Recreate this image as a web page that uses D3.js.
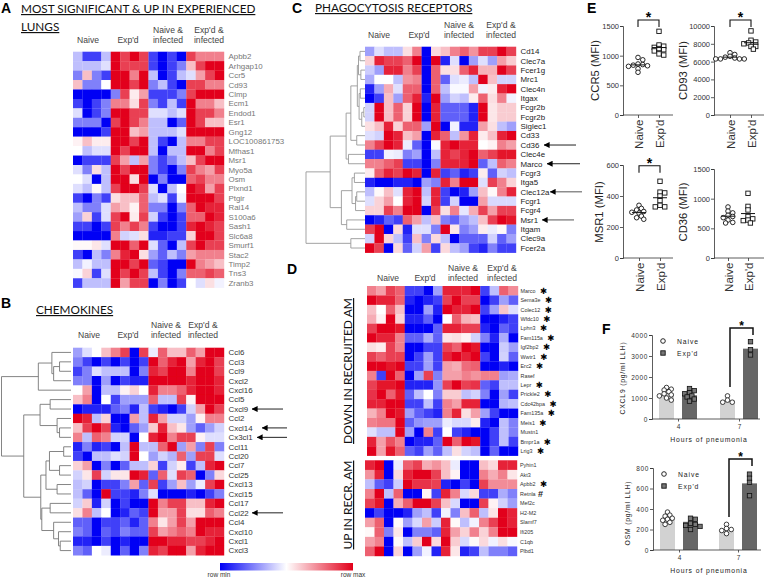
<!DOCTYPE html>
<html lang="en">
<head>
<meta charset="UTF-8" />
<title>Experienced lungs</title>
<script src="https://cdn.jsdelivr.net/npm/d3@7"></script>
<style>
  html, body { margin: 0; padding: 0; background: #fff; }
  svg { display: block; }
  text { font-family: "Liberation Sans", Arial, sans-serif; }
  .title { font-family: Lato, "Open Sans", sans-serif; text-decoration: underline; fill: #111; }
  .letter { font-weight: bold; font-size: 14px; fill: #000; }
  .group { font-size: 8.6px; fill: #444; text-anchor: middle; }
  .axis path, .axis line { stroke: #333; stroke-width: 0.8; }
  .axis text { fill: #333; font-family: "Liberation Sans", Arial, sans-serif; }
</style>
</head>
<body>
<svg id="fig" width="768" height="579"></svg>
<script>
// heatmap rows, -4 = row min, 4 = row max
var genesA = ["Apbb2","Arhgap10","Ccr5","Cd93","Clmp","Ecm1","Endod1","Esr1","Gng12","LOC100861753","Mfhas1","Msr1","Myo5a","Osm","Plxnd1","Ptgir","Rai14","S100a6","Sash1","Slc6a8","Smurf1","Stac2","Timp2","Tns3","Zranb3"];
var valuesA = [
[-1,-3,-3,-1,4,3,4,3,-3,-4,-3,-4,3,2,2,2],
[-1,-1,-1,-.5,4,3,3,3,-3,-4,-3,-2,1,3,4,4],
[-2,1,-2,-3,4,4,2,4,-1,-4,-3,-1,-.5,1.5,3,4],
[1,-2,-2,0,4,4,3,4,-2,-1,-3,-4,3,3,2,2],
[-4,-4,-4,-4,-2,3,.3,1.5,-3,-3,-3,-2,3,4,4,4],
[-3,-4,-3,-2,2,2,.5,3,-2,-3,-1,-3,4,2,2,1],
[-.5,-4,-3,-2,4,4,3,3,-.5,-.5,-1,-.5,4,3,3,2],
[-2,-2,-2,-4,3,4,3,2,-1,-1,-4,-2.5,4,3,1,1],
[-4,-4,-4,-3,4,4,1,1.5,-1,-1,-1,-.5,4,4,4,4],
[.2,1,.3,.3,4,4,3,4,-1,-3,-4,-1,2,2,3,3],
[0,-1,-.5,-.5,4,3,4,4,-1,-4,-1,-1,4,4,2,3],
[-4,-3,-3,-3,3,1.5,-1,1.5,-2,-3,-2,-1,1,3,4,4],
[-.5,-2,.5,-1,4,3,4,4,-2,-3,-4,-2,3,2,1.5,3],
[0,-.5,-4,-1,4,4,.5,4,-4,-2,-4,-4,2.5,3,2,2],
[-.5,-1,.1,-1,3,4,4,3,-.5,-4,-1,0,4,3.5,1.5,3],
[-3,-4,-2,-3,.5,1,1,2.5,-1,-.5,-3,-.2,4,4,4,3],
[-1,-2,-2,-.5,1.5,1,.2,2.5,-2,-2,-4,-2,2.5,4,3.5,3.5],
[-1.5,.7,-3,-.5,3,4,.3,3,-.7,-3,-4,-3,2.5,2.5,4,3.5],
[-3,-3,-4,-3,3,2,3,2,-3,-4,-4,-3,3.5,4,3.5,3],
[-4,-4,-4,-4,2,-.7,-.5,.5,-3.5,-3.5,-3,-3,.7,4,4,3],
[.1,.1,.4,-.5,4,4,2.5,4,-.5,-2.5,-4,-1,3,4,3,3],
[-3,-4,-1,-2,2,3.5,4,.5,-1.5,-2.5,-1,-2,1.5,2,2,2],
[-1,-.2,-1,-1,4,4,3,4,-2.5,-3,-4,-4,4,2,1.5,1],
[-.1,.7,-3,-.5,4,3,4,3,-1,-3,-4,-2,2.5,2.5,3,2.5],
[-3,-1,-1,-1,4,1.5,3,3,-4,-2,-4,-3,0,-.5,.5,-.2]];

var genesB = ["Ccl6","Ccl3","Ccl9","Cxcl2","Cxcl16","Ccl5","Cxcl9","Ccl2","Cxcl14","Cx3cl1","Ccl11","Ccl20","Ccl7","Ccl25","Cxcl13","Cxcl15","Ccl17","Ccl22","Ccl4","Cxcl10","Cxcl1","Cxcl3"];
var valuesB = [
[-1.5,-.5,0,1,2,3,-4,3,-.3,2.5,1,1,2.5,1.5,4,4],
[-2,-3,-4,-3,-4,-3,-4,-3,4,2.5,3.5,4,1.5,3.5,4,3],
[-3,-2,-.5,-1,-1,-1,-4,-2,3.5,3,4,4,2,4,4,3],
[-2,-2,-4,-1.5,-4,-3,-3.5,-3.5,4,4,4,4,3.5,4,4,3.5],
[0,1.5,-4,-1,-1,.2,.7,0,3.5,2,2,2.5,3.5,4,4,3.5],
[1,2,-4,0,-3,-1.5,-1.5,-1.5,2.5,-1,-1,3,.2,4,4,4],
[-4,-3.5,-3.5,-3.5,-2.5,-2,-3.5,-1,-3,-3.5,-4,-3,-.7,1.5,4,3],
[4,3.5,-1,.7,-4,-4,1.5,-1,3.5,1.5,-.7,-.7,-1.5,.2,2,2],
[1,3,4,3,-3.5,-4,-2.5,-1.5,.8,3.5,1,.4,-1.5,-2.5,-1.5,-.7],
[2,-1,2.5,2,-.7,-.7,-4,0,3.5,4,2,3,3,.2,-.5,-.5],
[-3.5,-2,-3.5,-3,-4,-1,4,-1,-1,2.5,4,-1.5,1.5,-2,3,-2],
[-3,-4,-1,-1,-.5,-.7,4,0,-1.5,-.7,-1.2,2.5,-1.5,3,3,-.5],
[.7,1.5,-4,-2,-4,-2.5,-1,-1,.7,-3,-.7,.3,-3,-1,3.5,4],
[-.7,.4,3,-.7,.4,.4,4,3.5,-2.5,2.5,-.5,3,2.5,-4,-2,.6],
[-1,-.7,-4,-3,-3,-2,1.5,-2.5,3,-3,-1.5,1,-1.5,-.3,3,4],
[-1,-2.5,-4,4,-3,-3,-3.5,-2,-.5,-4,-4,-4,-3.5,-4,-3,-2],
[-.7,.8,-3.5,-.7,-4,-3,-4,-4,4,2,3,3,1,1,3.5,4],
[.5,2,-1,0,-4,-3.5,-2.5,-3,4,1.5,1.5,3,.5,.5,2.5,2],
[-2.5,-2.5,-4,-3,-3,-2.5,-3.5,-2.5,2,.4,1.5,3,1.5,4,4,4],
[-2,-2.5,-4,-2.5,-3,-2,-2.5,-2.5,3,1.5,2,2.5,2,4,3.5,3.5],
[-3.5,-3.5,-4,-3,-4,-3.5,-4,-4,4,4,3.5,3.5,3,3,3.5,4],
[-2,-2.5,0,-.3,-4,-2.5,-4,-2,3.5,3,4,4,1.5,3.5,4,4]];
var treeB = [1,[.47,[.275,0,[.25,[.165,1,2],3]],4],[.68,[.445,[.3,5,6],[.2,7,[.165,8,9]]],[.435,[.36,[.31,[.105,10,11],[.165,12,13]],[.2,14,15]],[.42,[.3,16,17],[.25,18,[.18,19,[.155,20,21]]]]]]];

var genesC = ["Cd14","Clec7a","Fcer1g","Mrc1","Clec4n","Itgax","Fcgr2b","Fcgr2b","Siglec1","Cd33","Cd36","Clec4e","Marco","Fcgr3","Itga5","Clec12a","Fcgr1","Fcgr4","Msr1","Itgam","Clec9a","Fcer2a"];
var valuesC = [
[-1.5,-.5,-1,-1,.5,2,-4,.6,1,2,2.5,1.7,3,3,4,3],
[.7,3.5,3,3,2.5,4,-4,4,-3.5,-.5,-4,-1.5,-.5,-1.5,1.5,.8],
[-.8,-1.5,3.5,3.5,2,3,-4,2.5,.5,.5,2.5,3.5,1.2,1.2,4,3],
[-1.3,0,0,-1,1.7,2,-4,2.5,-2.5,-.5,-.3,-1,4,1,-.7,-.7],
[-3.5,-1.5,1.3,-.5,2.5,2.5,-4,2.5,-1,-.1,-.1,1.5,-.2,.3,3.5,4],
[-4,-3,1,-1.5,2.5,3.5,-3.5,4,-1.5,-.7,-1,.3,2.5,.5,2,-.2],
[-.7,4,1,2.5,.7,4,-4,3.5,-2.5,-2.5,-2.5,-3.5,4,.4,.8,.8],
[-.7,4,1,2.5,.7,4,-4,3.5,-2.5,-2.5,-2.5,-3.5,4,.4,.8,.8],
[.5,1,3.5,.7,2.5,2.5,-1.5,4,-4,-.2,-3.5,-3.5,1.5,.5,-1,-1.5],
[-.5,-.7,4,3.5,1,1.5,-4,3.5,2.5,-1,1.7,3.5,.3,1,3.5,4],
[2,3,4,3.5,-.3,-2.5,-4,-.1,3.5,4,3.5,3.5,0,.2,2,1.5],
[-3,-3,-.2,-.3,-2,-1.5,-4,-1,3.5,3,3.5,4,2.5,3,3.7,3.7],
[2,2,2.5,3,-3,-3,-4,-2,3.5,3.5,3.5,4,-2.5,-1,2.5,2],
[.3,2.5,3.5,3,4,3.5,-4,3.5,-3,-2.5,-3.5,-3,.3,-2.5,-.7,-1],
[-3.5,-4,-4,-3.5,-3.5,-4,-1.5,-2,3.5,2,4,4,-.5,3,2,.7],
[-1,.1,1,-.5,3.5,4,-1,3.5,-3,-4,-3.5,-1.5,1,.1,2,3.5],
[-.5,.7,1.5,0,3.5,4,-.7,3.5,-3,-.7,-4,-4,1.5,-.6,-.6,-.6],
[.7,.7,3,2,4,4,-4,3,.5,2,-.4,1.3,3,1.5,3,3],
[-4,-3.5,-2.5,-3,2.5,1.5,-1,1,-2,-2.5,-1.5,-1,1,3,4,3.7],
[3,4,-4,.6,-3.5,-.5,-.5,-2,4,.4,-2,-1.5,.3,-.3,.1,-2],
[-.7,4,.7,-1,-3,1,-2,.6,-1,-4,-2.5,-2.5,-2.5,-.7,-2.5,-1.5],
[4,3,-4,.6,-2.5,-.7,1.5,-3,.6,-1,-1.5,-3,-3.5,-2,-3,-3]];
var treeC = [1,[.59,[.32,[.24,[.13,[.11,[.085,0,1],[.07,2,3]],[.1,[.08,4,5],[.055,[.02,6,7],8]]],[.14,9,10]],[.28,11,12]],[.4,[.22,[.18,13,14],[.16,[.14,15,16],17]],[.31,18,19]]],[.24,20,21]];

var genesD1 = ["Marco","Sema3e","Colec12","Wfdc10","Lphn3","Fam115a","Igf2bp2","Wwtr1","Erc2","Rasef","Lepr","Prickle2","Cdc42bpa","Fam135a","Meis1","Mustn1","Bmpr1a","Lrig3"];
var valuesD1 = [
[2,1.5,3,2.5,-3,-3,-4,-1.5,3.5,3.5,3.5,4,-3,-1,2.5,1.8],
[4,3.5,3.5,2.5,-3.5,-4,-3.5,-3,3,4,3,3,-4,-3,-1.5,-2.5],
[1,0,2.5,1,-4,-4,-1.5,-3.5,4,3.5,3.5,4,-3,-1.5,.9,-.5],
[1.3,.2,4,.7,-3.5,-3.5,-2.5,-4,0,2.5,1.2,1,-4,-4,-3.5,-3],
[3,4,4,3.7,-4,-4,-4,-2.5,3.5,3.5,3,3,-3.5,-4,-2.5,-3],
[4,3.5,3.5,2,-2.5,-2.5,-1.3,-2.5,.4,.5,.2,-.7,-2,-3.5,-1.3,-4],
[.5,.3,3,2,-4,-4,-3,-3,3,2.5,4,3.7,-4,-4,-.8,-1.5],
[3,2.5,3,3,-4,-3,-1.5,-3,3.5,4,3.5,4,-3,-4,-.7,-2.5],
[4,4,3.7,4,-3,-3,-1.5,-3,1.5,1.3,2.3,2.5,-4,-4,-3.5,-4],
[2,-3,4,2.5,-4,-1.5,3,-2,1.5,1.5,2,1.7,2,2,-1.5,-1.3],
[3,3.7,3.7,4,-3.5,-3.5,-3.5,-1.7,3,4,3,3.2,-2.5,-3,-1,-1],
[3.2,4,2.5,3.7,-2.5,-1,0,-2,.8,.8,-1,-.7,-2,-4,-1.5,-3],
[3.5,3.5,4,4,-3,-3,-1,-3,2,1.5,3.5,3.5,-4,-4,-1.2,-1],
[1.2,2,4,3.7,-1.5,-2.5,-3,-3.5,2,3.5,.5,1.5,-1.5,-3,-4,-4],
[2,2.2,2.2,4,-2.5,-1.7,-1.5,-1.5,-.3,-.6,-.6,.3,-3.5,-4,-1,-2],
[-.5,-1,-1,4,-1.5,-4,2,-3,0,-3,-3.5,-4,-4,-3,-1,-2],
[3.5,1.5,2.7,2,-4,-3.5,-3.5,-2.5,4,2.5,4,3.7,-4,-3,-1,-3],
[4,1.5,3.7,2.5,-2.5,-3,-1.5,-2.5,-1,.5,-.7,-1,-4,-2.5,-4,-4]];
var starsD1 = ["Marco","Sema3e","Colec12","Wfdc10","Lphn3","Fam115a","Igf2bp2","Wwtr1","Erc2","Lepr","Prickle2","Cdc42bpa","Fam135a","Meis1","Bmpr1a","Lrig3"];

var genesD2 = ["Pyhin1","Akt3","Apbb2","Retnla","Mef2c","H2-M2","Slamf7","Ifi205","C1qb","Plbd1"];
var valuesD2 = [
[3.5,4,-4,-.3,2.5,3,1.3,1.7,1,-.3,-4,-4,1,.6,3.5,3.5],
[1.7,3.5,-4,.6,3.5,4,4,3,1,.2,-4,-4,2,1.3,2,.4],
[-1,-2.5,-3,-.8,4,3.2,3.2,3,-3.5,-4,-3,-4,3,1.8,1.8,1.8],
[2,4,-1,2.5,-4,-4,.2,-3,3.5,2,-.6,.6,-3,-3,-1.3,-2],
[3,3.7,-4,1.3,2.5,4,4,3,1,-.6,-4,-4,3,.2,-.7,-1.5],
[-4,-3,-4,-4,-3.5,-1.5,-1,-3,-.2,-2,1,2.5,-1,.4,4,3.5],
[1.5,2.5,-4,.1,-1.5,-.6,1.5,-.8,3.5,.1,-1,-.2,2,3,4,3.5],
[.1,2.5,-2,.4,-4,-2,-2,-2.5,3.5,1.5,.7,2,.7,2,4,4],
[1.5,2,-4,.1,-1,.8,4,.6,4,.8,-.6,.1,.6,-.2,.5,-.1],
[2.5,4,-4,.7,-4,-1.5,-.2,-3.5,3.5,.4,-3.5,-3,-1,-2,-2,-2.5]];

// panel E, MFI per animal
var groupsE = ["Naive", "Exp'd"];
var ccr5Naive = [970,930,860,850,840,830,820,780,720], ccr5Exp = [1410,1180,1160,1140,1120,1100,1080,1030,1010];
var cd93Naive = [7000,6800,6600,6500,6400,6300,6300,6300,6300], cd93Exp = [9450,8400,8200,8100,8000,7700,7700,7400];
var msr1Naive = [340,320,310,300,295,290,270,260,250], msr1Exp = [495,425,420,400,370,340,330,330];
var cd36Naive = [860,790,760,720,700,680,640,600,590], cd36Exp = [1090,870,810,700,660,640,630,590];

// panel F
var hours = ["4", "7"];
var cxcl9Bars = [[1230,1130],[900,3350]];
var cxcl9Points = [[[1500,1420,1380,1300,1200,1150,1100,1000,900],[1450,1350,1250,1200,1100,1050,950,850]],[[1100,900,800,800],[3680,3300,3050]]];
var osmBars = [[300,275],[200,650]];
var osmPoints = [[[370,340,330,310,300,290,270,250],[310,300,260,250,240,230,200]],[[250,210,200,190,160],[740,700,660,530]]];

var svg = d3.select("#fig");
var color = d3.scaleLinear().domain([-4,0,4]).range(["#0000f5","#ffffff","#e2001a"]);

function label(x, y, t, cls, size) {
  var e = svg.append("text").attr("x", x).attr("y", y).text(t);
  if (cls) e.attr("class", cls);
  if (size) e.attr("font-size", size);
  return e;
}

var defs = svg.append("defs");
defs.append("filter").attr("id", "soft").append("feGaussianBlur").attr("stdDeviation", 0.35);

function heatmap(o) {
  var g = svg.append("g");
  var cells = g.append("g").attr("filter", "url(#soft)");
  var xs = d3.scaleBand().domain(d3.range(16)).range([o.x0, o.x1]);
  var ys = d3.scaleBand().domain(d3.range(o.genes.length)).range([o.y0, o.y1]);
  o.values.forEach(function (row, i) {
    cells.selectAll(null).data(row).enter().append("rect")
      .attr("x", function (d, j) { return xs(j); })
      .attr("y", ys(i))
      .attr("width", xs.bandwidth() + 0.2)
      .attr("height", ys.bandwidth() + 0.2)
      .attr("fill", function (d) { return color(d); });
  });
  g.selectAll(".gene").data(o.genes).enter().append("text")
    .attr("x", o.x1 + (o.dx || 4.5))
    .attr("y", function (d, i) { return ys(i) + ys.bandwidth() / 2 + o.fs * 0.36; })
    .attr("font-size", o.fs)
    .attr("fill", o.fill)
    .text(function (d) { return d; })
    .each(function (d, i) {
      if (o.stars && o.stars.indexOf(d) >= 0) {
        var end = o.x1 + (o.dx || 4.5) + this.getComputedTextLength();
        label(end + 8, ys(i) + ys.bandwidth() / 2 + 3, "\u2731", null, 8.5)
          .attr("text-anchor", "middle").style("font-family", "'DejaVu Sans'");
      }
    });
  return ys;
}

function groupLabels(cx, y) {
  label(cx[0], y, "Naive", "group");
  label(cx[1], y, "Exp'd", "group");
  label(cx[2], y - 10.5, "Naive &", "group");
  label(cx[2], y, "infected", "group");
  label(cx[3], y - 10.5, "Exp'd &", "group");
  label(cx[3], y, "infected", "group");
}

function dendrogram(tree, ys, x0, x1, col) {
  var xs = d3.scaleLinear().domain([0,1]).range([x1, x0]);
  var p = d3.path();
  function walk(n) {
    if (typeof n === "number") return { x: x1, y: ys(n) + ys.bandwidth() / 2 };
    var a = walk(n[1]), b = walk(n[2]), x = xs(n[0]);
    p.moveTo(a.x, a.y); p.lineTo(x, a.y); p.lineTo(x, b.y); p.lineTo(b.x, b.y);
    return { x: x, y: (a.y + b.y) / 2 };
  }
  walk(tree);
  svg.append("path").attr("d", p.toString()).attr("fill", "none").attr("stroke", col).attr("stroke-width", 0.9);
}

defs.append("marker").attr("id", "head").attr("viewBox", "0 0 8 8").attr("refX", 7.5).attr("refY", 4)
  .attr("markerWidth", 6).attr("markerHeight", 6).attr("markerUnits", "userSpaceOnUse").attr("orient", "auto")
  .append("path").attr("d", "M0,0L8,4L0,8Z").attr("fill", "#000");

function arrow(x1, x2, y, col) {
  svg.append("line").attr("x1", x1).attr("x2", x2).attr("y1", y).attr("y2", y)
    .attr("stroke", col || "#222").attr("stroke-width", 1).attr("marker-end", "url(#head)");
}

// A
label(1, 13, "A", "letter");
label(21, 13, "MOST SIGNIFICANT & UP IN EXPERIENCED", "title", 11.75);
label(21, 31, "LUNGS", "title", 11.75);
groupLabels([88, 128, 168, 209], 43);
heatmap({ genes: genesA, values: valuesA, x0: 73, x1: 224, y0: 51.7, y1: 287.7, fs: 7.9, fill: "#777" });

// B
label(1, 307.5, "B", "letter");
label(36, 314, "CHEMOKINES", "title", 11.75);
groupLabels([89, 128, 166, 203], 338);
var ysB = heatmap({ genes: genesB, values: valuesB, x0: 73, x1: 224, y0: 347.7, y1: 555.3, fs: 7.9, fill: "#333" });
dendrogram(treeB, ysB, 1.5, 71, "#777");
[["Cxcl9",283,252],["Cxcl14",287,262],["Cx3cl1",287,257],["Ccl22",283,252]].forEach(function (a) {
  arrow(a[1], a[2], ysB(genesB.indexOf(a[0])) + ysB.bandwidth() / 2);
});

// colour bar
var grad = defs.append("linearGradient").attr("id", "bar");
[0, 0.5, 1].forEach(function (t) {
  grad.append("stop").attr("offset", t).attr("stop-color", color(-4 + 8 * t));
});
svg.append("rect").attr("x", 220).attr("y", 563).attr("width", 133).attr("height", 7.5).attr("fill", "url(#bar)");
label(219, 577, "row min", null, 6.5).attr("text-anchor", "middle").attr("fill", "#333");
label(353, 577, "row max", null, 6.5).attr("text-anchor", "middle").attr("fill", "#333");

// C
label(292, 13, "C", "letter");
label(315, 12, "PHAGOCYTOSIS RECEPTORS", "title", 11.75);
groupLabels([379, 419, 459, 501], 38);
var ysC = heatmap({ genes: genesC, values: valuesC, x0: 365, x1: 516, y0: 46.7, y1: 252.7, fs: 7.9, fill: "#222" });
dendrogram(treeC, ysC, 306, 365, "#999");
[["Cd36",576,544],["Marco",580,547],["Clec12a",582,550],["Msr1",574,542]].forEach(function (a) {
  arrow(a[1], a[2], ysC(genesC.indexOf(a[0])) + ysC.bandwidth() / 2, a[0] == "Msr1" || a[0] == "Clec12a" ? "#555" : "#222");
});

// D
label(287, 274, "D", "letter");
groupLabels([388, 425, 463, 502], 281);
heatmap({ genes: genesD1, values: valuesD1, x0: 367, x1: 518, y0: 286, y1: 455.7, fs: 5.4, fill: "#333", dx: 2.5, stars: starsD1 });
var ysD2 = heatmap({ genes: genesD2, values: valuesD2, x0: 365, x1: 517, y0: 460.3, y1: 556, fs: 5.4, fill: "#333", dx: 3, stars: ["Apbb2"] });
label(538, ysD2(3) + ysD2.bandwidth() / 2 + 3.5, "#", null, 9).attr("font-weight", "bold").attr("fill", "#222");
label(0, 0, "DOWN IN RECRUITED AM", "title", 12).attr("text-anchor", "middle").attr("transform", "translate(352,371) rotate(-90)");
label(0, 0, "UP IN RECR. AM", "title", 12).attr("text-anchor", "middle").attr("transform", "translate(352,505) rotate(-90)");

// lay points out next to each other, they may touch a little
function swarm(vals, y, gap) {
  var placed = [];
  vals.forEach(function (v) {
    var py = y(v), k = 0, off = 0;
    while (placed.some(function (q) { return Math.hypot(q.off - off, q.py - py) < gap; })) {
      k++;
      off = (k % 2 ? 1 : -1) * Math.ceil(k / 2) * gap * 0.7;
    }
    placed.push({ off: off, py: py, v: v });
  });
  return placed;
}

function marks(g, placed, cx, square, fill, sw) {
  placed.forEach(function (p) {
    if (square) {
      g.append("rect").attr("x", cx + p.off - 2.2).attr("y", p.py - 2.2).attr("width", 4.4).attr("height", 4.4)
        .attr("fill", fill).attr("stroke", "#111").attr("stroke-width", sw);
    } else {
      g.append("circle").attr("cx", cx + p.off).attr("cy", p.py).attr("r", 2.3)
        .attr("fill", "#fff").attr("stroke", "#111").attr("stroke-width", sw);
    }
  });
}

function scatter(o) {
  var g = svg.append("g");
  var y = d3.scaleLinear().domain([0, o.max]).range([o.y0, o.y1]);
  var x = d3.scalePoint().domain(groupsE).range(o.xt);
  g.append("g").attr("class", "axis").attr("transform", "translate(" + o.x0 + ",0)")
    .call(d3.axisLeft(y).tickValues(o.ticks).tickFormat(d3.format("d")).tickSize(3).tickPadding(1))
    .selectAll("text").attr("font-size", 7.5);
  var ax = g.append("g").attr("class", "axis").attr("transform", "translate(0," + o.y0 + ")")
    .call(d3.axisBottom(x).tickSize(3));
  ax.select(".domain").attr("d", "M" + o.x0 + ",0H" + (o.x0 + 50));
  ax.selectAll("text").attr("font-size", 11.5).attr("text-anchor", "end").attr("x", 0).attr("y", 0).attr("dy", 0)
    .attr("transform", "translate(4,4.5) rotate(-90)");
  label(0, 0, o.title, null, 11.3).attr("text-anchor", "middle").attr("fill", "#222")
    .attr("transform", "translate(" + o.lx + "," + o.ly + ") rotate(-90)");
  [[o.a, 0], [o.b, 1]].forEach(function (s) {
    marks(g, swarm(s[0], y, 3.4), x(groupsE[s[1]]), s[1] == 1, "#fff", 0.9);
    var m = d3.mean(s[0]);
    g.append("line").attr("x1", x(groupsE[s[1]]) - 7).attr("x2", x(groupsE[s[1]]) + 7)
      .attr("y1", y(m)).attr("y2", y(m)).attr("stroke", "#111").attr("stroke-width", 1);
  });
  if (o.by) {
    var x1 = x(groupsE[0]), x2 = x(groupsE[1]);
    g.append("path").attr("d", "M" + x1 + "," + (o.by + 7) + "V" + o.by + "H" + x2 + "V" + (o.by + 7))
      .attr("fill", "none").attr("stroke", "#111").attr("stroke-width", 1.1);
    label((x1 + x2) / 2, o.by + 2, "*", null, 14).attr("text-anchor", "middle").attr("font-weight", "bold");
  }
}

// E
label(587, 13, "E", "letter");
scatter({ title: "CCR5 (MFI)", a: ccr5Naive, b: ccr5Exp, max: 1500, ticks: [0,500,1000,1500], x0: 623, xt: [638,659], y0: 115, y1: 26, lx: 599, ly: 70.5, by: 20 });
scatter({ title: "CD93 (MFI)", a: cd93Naive, b: cd93Exp, max: 10000, ticks: [0,2000,4000,6000,8000,10000], x0: 714, xt: [730,751], y0: 115, y1: 26, lx: 687, ly: 70.5, by: 20 });
scatter({ title: "MSR1 (MFI)", a: msr1Naive, b: msr1Exp, max: 600, ticks: [0,200,400,600], x0: 623, xt: [639,660], y0: 258, y1: 165, lx: 603, ly: 212, by: 165.7 });
scatter({ title: "CD36 (MFI)", a: cd36Naive, b: cd36Exp, max: 1500, ticks: [0,500,1000,1500], x0: 714, xt: [728,748], y0: 258, y1: 169, lx: 687, ly: 212 });

// F
label(602, 334, "F", "letter");

function barPanel(o) {
  var g = svg.append("g");
  var y = d3.scaleLinear().domain([0, o.max]).range([o.y0, o.y1]);
  var x = d3.scalePoint().domain(hours).range(o.xt);
  var barW = 15, shift = 11.5;
  g.append("g").attr("class", "axis").attr("transform", "translate(" + o.x0 + ",0)")
    .call(d3.axisLeft(y).tickValues(o.ticks).tickFormat(d3.format("d")).tickSize(3).tickPadding(1))
    .selectAll("text").attr("font-size", 6.5).style("letter-spacing", "0.6px");
  hours.forEach(function (h, i) {
    [0, 1].forEach(function (s) {
      var cx = x(h) + (s ? shift : -shift);
      g.append("rect").attr("x", cx - barW / 2).attr("width", barW)
        .attr("y", y(o.bars[i][s])).attr("height", o.y0 - y(o.bars[i][s]))
        .attr("fill", s ? "#666" : "#d2d2d2");
      marks(g, swarm(o.points[i][s], y, 3.4), cx, s == 1, "#777", 0.8);
    });
  });
  var ax = g.append("g").attr("class", "axis").attr("transform", "translate(0," + o.y0 + ")")
    .call(d3.axisBottom(x).tickSize(2.5).tickPadding(3));
  ax.select(".domain").attr("d", "M" + o.x0 + ",0H" + (o.x0 + 108));
  ax.selectAll("text").attr("font-size", 6.5);
  label(709, o.y0 + 23, "Hours of pneumonia", null, 6.8).attr("text-anchor", "middle").attr("fill", "#222").style("letter-spacing", "0.9px");
  label(0, 0, o.title, null, 6.8).attr("text-anchor", "middle").attr("fill", "#222").style("letter-spacing", "0.8px")
    .attr("transform", "translate(" + o.lx + "," + o.ly + ") rotate(-90)");
  g.append("path").attr("d", "M" + o.b[0] + "," + o.b[1] + "V" + o.b[2] + "H" + o.b[3] + "V" + (o.b[2] + 7))
    .attr("fill", "none").attr("stroke", "#111").attr("stroke-width", 1.5);
  label((o.b[0] + o.b[3]) / 2, o.b[2] + 2, "*", null, 12).attr("text-anchor", "middle").attr("font-weight", "bold");
  // legend
  var lx = o.x0 + 11, ly = o.y1 + 6;
  marks(g, [{ off: 0, py: ly }], lx, false, "#fff", 0.9);
  marks(g, [{ off: 0, py: ly + 12 }], lx, true, "#777", 0.9);
  label(lx + 14, ly + 2.5, "Naive", null, 6.8).attr("fill", "#222").style("letter-spacing", "0.9px");
  label(lx + 14, ly + 14.5, "Exp'd", null, 6.8).attr("fill", "#222").style("letter-spacing", "0.9px");
}

barPanel({ title: "CXCL9 (pg/ml LLH)", bars: cxcl9Bars, points: cxcl9Points, max: 4000, ticks: [0,1000,2000,3000,4000], x0: 652, xt: [678,739], y0: 419, y1: 335, lx: 625, ly: 378, b: [730,387,328,753] });
barPanel({ title: "OSM (pg/ml LLH)", bars: osmBars, points: osmPoints, max: 800, ticks: [0,200,400,600,800], x0: 653, xt: [679,738], y0: 550, y1: 468, lx: 630, ly: 513, b: [729,517,459,752] });
</script>
</body>
</html>
